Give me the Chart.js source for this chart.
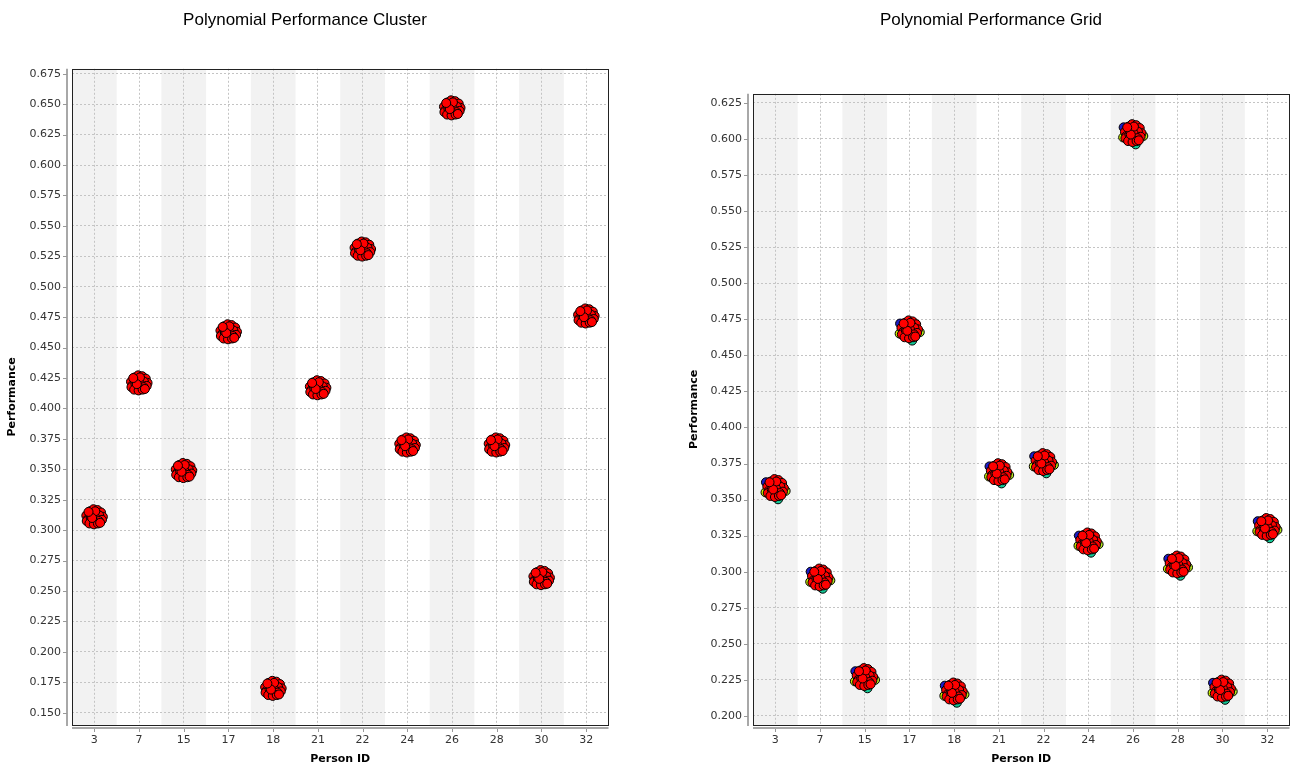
<!DOCTYPE html>
<html>
<head>
<meta charset="utf-8">
<title>Polynomial Performance</title>
<script src="https://cdn.jsdelivr.net/npm/chart.js@4.4.1/dist/chart.umd.min.js"></script>
<style>
  body { margin: 0; background: #fff; overflow: hidden; }
  .panel { position: absolute; top: 0; height: 769px; }
  #leftPanel { left: 0; width: 614px; }
  #rightPanel { left: 688px; width: 607px; }
</style>
</head>
<body>
<div class="panel" id="leftPanel"><canvas id="clusterChart"></canvas></div>
<div class="panel" id="rightPanel"><canvas id="gridChart"></canvas></div>
<script>
const personIds = ['3', '7', '15', '17', '18', '21', '22', '24', '26', '28', '30', '32'];

// mean performance per person
const clusterMeans = [0.311, 0.421, 0.349, 0.463, 0.170, 0.417, 0.531, 0.370, 0.647, 0.370, 0.261, 0.476];
const gridMeans = [0.358, 0.296, 0.227, 0.468, 0.217, 0.369, 0.376, 0.321, 0.604, 0.305, 0.219, 0.331];

const clusterTicks = [0.150, 0.175, 0.200, 0.225, 0.250, 0.275, 0.300, 0.325, 0.350, 0.375, 0.400,
    0.425, 0.450, 0.475, 0.500, 0.525, 0.550, 0.575, 0.600, 0.625, 0.650, 0.675];
const gridTicks = [0.200, 0.225, 0.250, 0.275, 0.300, 0.325, 0.350, 0.375, 0.400, 0.425,
    0.450, 0.475, 0.500, 0.525, 0.550, 0.575, 0.600, 0.625];

// spread of the single runs around each mean (x in category units, y in performance)
const runJitterX = [-0.18, -0.10, -0.02, 0.07, 0.15, 0.19, -0.15, -0.06, 0.03, 0.11,
    0.17, -0.17, -0.08, 0.01, 0.10, -0.11, -0.01, 0.08, 0.02, -0.05, 0.13, -0.13];
const runJitterY = [0.001, 0.0045, 0.0062, 0.0055, 0.0035, 0.000, -0.002, 0.0025, 0.0035, 0.001,
    -0.0025, -0.0035, -0.001, 0.000, -0.0035, -0.0055, -0.0062, -0.0055, 0.0045, -0.001, -0.005, 0.004];

// the other grid runs that peek out under the red ones
const otherJitterX = [-0.21, 0.23, 0.06, -0.22];
const otherJitterY = [0.004, -0.002, -0.0078, -0.003];
const otherColors = ['#1c1cc8', '#b4e61e', '#14c896', '#c8f000'];

function runPoints(means, jx, jy) {
    const pts = [];
    means.forEach((m, i) => {
        jx.forEach((dx, k) => {
            pts.push({ x: i + dx, y: m + jy[k] });
        });
    });
    return pts;
}

const framePlugin = {
    id: 'frame',
    beforeDraw(chart) {
        const { ctx, chartArea: a, scales: { x } } = chart;
        ctx.save();
        ctx.fillStyle = '#f2f2f2';
        personIds.forEach((id, i) => {
            if (i % 2) return;
            const l = x.getPixelForValue(i - 0.5);
            const r = x.getPixelForValue(i + 0.5);
            ctx.fillRect(l, a.top, r - l, a.bottom - a.top);
        });
        ctx.restore();
    },
    afterDraw(chart) {
        const { ctx, chartArea: a, scales: { x, y } } = chart;
        ctx.save();
        // grey axis lines sit a few pixels off the plot
        ctx.strokeStyle = '#a8a8a8';
        ctx.lineWidth = 2;
        ctx.beginPath();
        ctx.moveTo(a.left - 5, a.top);
        ctx.lineTo(a.left - 5, a.bottom + 1);
        ctx.moveTo(a.left, a.bottom + 3);
        ctx.lineTo(a.right, a.bottom + 3);
        ctx.stroke();

        ctx.lineWidth = 1;
        ctx.strokeStyle = '#999';
        ctx.beginPath();
        y.ticks.forEach(t => {
            const py = Math.round(y.getPixelForValue(t.value)) + 0.5;
            ctx.moveTo(a.left - 9, py);
            ctx.lineTo(a.left - 5, py);
        });
        x.ticks.forEach(t => {
            const px = Math.round(x.getPixelForValue(t.value)) + 0.5;
            ctx.moveTo(px, a.bottom + 4);
            ctx.lineTo(px, a.bottom + 7);
        });
        ctx.stroke();

        ctx.strokeStyle = '#222';
        ctx.strokeRect(Math.round(a.left) + 0.5, Math.round(a.top) + 0.5,
            Math.round(a.right - a.left) - 1, Math.round(a.bottom - a.top));
        ctx.restore();
    }
};

function makeChart(canvasId, titleText, datasets, yTicks, yMin, yMax, padRight, titleGap, yWidth, yTitlePad) {
    const ctx = document.getElementById(canvasId).getContext('2d');
    return new Chart(ctx, {
        type: 'scatter',
        data: { datasets },
        plugins: [framePlugin],
        options: {
            responsive: true,
            maintainAspectRatio: false,
            animation: false,
            layout: { padding: { left: 0, right: padRight, top: 0, bottom: 0 } },
            plugins: {
                legend: { display: false },
                tooltip: { enabled: false },
                title: {
                    display: true,
                    text: titleText,
                    color: '#000',
                    font: { family: 'Liberation Sans', size: 17, weight: 'normal' },
                    padding: { top: 10, bottom: titleGap }
                }
            },
            scales: {
                x: {
                    type: 'linear',
                    min: -0.5,
                    max: 11.5,
                    afterBuildTicks: s => { s.ticks = personIds.map((id, i) => ({ value: i })); },
                    afterFit: s => { s.height = 44; s.paddingLeft = 0; s.paddingRight = 0; },
                    border: { display: false, dash: [2, 2] },
                    grid: { color: '#c4c4c4', drawTicks: false },
                    ticks: {
                        padding: 9,
                        color: '#333',
                        font: { family: 'DejaVu Sans', size: 11 },
                        callback: v => personIds[v]
                    },
                    title: {
                        display: true,
                        text: 'Person ID',
                        color: '#000',
                        font: { family: 'DejaVu Sans', size: 11, weight: 'bold' },
                        padding: { top: 0, bottom: 3 }
                    }
                },
                y: {
                    min: yMin,
                    max: yMax,
                    afterBuildTicks: s => { s.ticks = yTicks.map(v => ({ value: v })); },
                    afterFit: s => { s.width = yWidth; s.paddingTop = 0; s.paddingBottom = 0; },
                    border: { display: false, dash: [2, 2] },
                    grid: { color: '#c4c4c4', drawTicks: false },
                    ticks: {
                        padding: 11,
                        color: '#333',
                        font: { family: 'DejaVu Sans', size: 11 },
                        callback: v => v.toFixed(3)
                    },
                    title: {
                        display: true,
                        text: 'Performance',
                        color: '#000',
                        font: { family: 'DejaVu Sans', size: 11, weight: 'bold' },
                        padding: { top: yTitlePad, bottom: 0 }
                    }
                }
            }
        }
    });
}

const redStyle = {
    backgroundColor: '#ff0000',
    borderColor: '#000',
    borderWidth: 1,
    pointRadius: 4.5
};

const clusterSets = [
    Object.assign({ label: 'Cluster', data: runPoints(clusterMeans, runJitterX, runJitterY) }, redStyle)
];

const gridSets = [
    Object.assign({ label: 'Grid', data: runPoints(gridMeans, runJitterX, runJitterY) }, redStyle)
];
otherColors.forEach((c, k) => {
    gridSets.push({
        label: 'Grid run ' + (k + 2),
        data: runPoints(gridMeans, [otherJitterX[k]], [otherJitterY[k]]),
        backgroundColor: c,
        borderColor: '#000',
        borderWidth: 1,
        pointRadius: 4.5
    });
});

makeChart('clusterChart', 'Polynomial Performance Cluster', clusterSets, clusterTicks,
    0.1399, 0.6791, 4, 38.4, 72, 6);
makeChart('gridChart', 'Polynomial Performance Grid', gridSets, gridTicks,
    0.19375, 0.63125, 1, 63.4, 65, 0);
</script>
</body>
</html>
